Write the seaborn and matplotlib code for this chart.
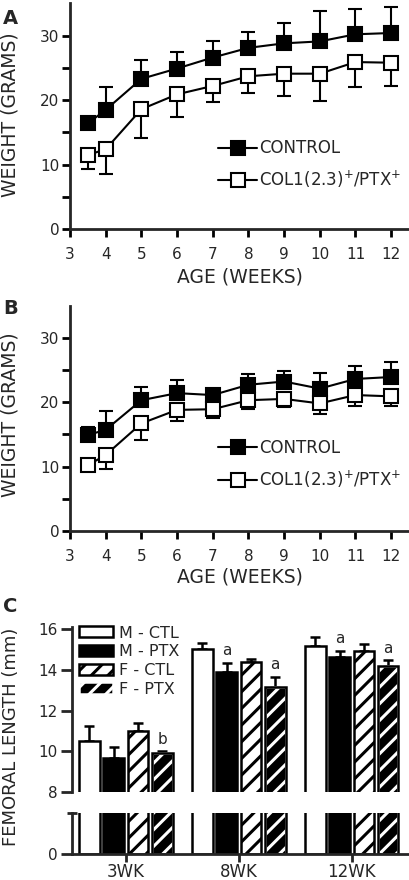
import numpy as np
import pandas as pd
import matplotlib
matplotlib.use("Agg")
import matplotlib.pyplot as plt
import seaborn as sns
from matplotlib.patches import Patch, Rectangle

# Panels A and B: body weight by age
weeks = [3.5, 4, 5, 6, 7, 8, 9, 10, 11, 12]

a_ctl = [16.4, 18.5, 23.3, 24.9, 26.6, 28.1, 28.8, 29.1, 30.2, 30.4]
a_ctl_sd = [0.6, 3.5, 2.9, 2.5, 2.5, 2.5, 3.2, 4.7, 3.9, 4.1]
a_ptx = [11.5, 12.4, 18.6, 20.9, 22.2, 23.7, 24.1, 24.1, 25.9, 25.8]
a_ptx_sd = [2.2, 3.8, 4.4, 3.5, 2.5, 2.6, 3.4, 4.2, 3.8, 3.6]

b_ctl = [14.9, 15.7, 20.3, 21.4, 21.1, 22.7, 23.2, 22.1, 23.6, 23.9]
b_ctl_sd = [1.3, 2.9, 2.1, 2.0, 0.8, 1.7, 1.7, 2.4, 2.0, 2.3]
b_ptx = [10.2, 11.8, 16.7, 18.8, 18.9, 20.3, 20.5, 19.8, 21.1, 20.9]
b_ptx_sd = [0.9, 2.2, 2.5, 1.8, 1.3, 1.3, 1.3, 1.6, 1.7, 1.5]

# Panel C: femoral length
ages = ["3WK", "8WK", "12WK"]
groups = ["M - CTL", "M - PTX", "F - CTL", "F - PTX"]
m_ctl = [10.50, 15.03, 15.18]
m_ctl_sd = [0.74, 0.28, 0.42]
m_ptx = [9.64, 13.91, 14.65]
m_ptx_sd = [0.58, 0.45, 0.30]
f_ctl = [10.99, 14.40, 14.93]
f_ctl_sd = [0.38, 0.14, 0.35]
f_ptx = [9.92, 13.17, 14.20]
f_ptx_sd = [0.08, 0.50, 0.29]
m_ptx_sig = ["", "a", "a"]
f_ptx_sig = ["b", "a", "a"]

sns.set_style("ticks")
plt.rcParams["font.family"] = ["DejaVu Sans"]
plt.rcParams["hatch.linewidth"] = 2.2

W, H = 410, 880
fig = plt.figure(figsize=(W / 100, H / 100), dpi=100)


def px_axes(left, top, right, bottom):
    return fig.add_axes([left / W, 1 - bottom / H, (right - left) / W, (bottom - top) / H])


def style_spines(ax, sides=("left", "bottom")):
    for s in ["left", "right", "top", "bottom"]:
        ax.spines[s].set_visible(s in sides)
        ax.spines[s].set_linewidth(2)


def weight_panel(ax, ctl, ctl_sd, ptx, ptx_sd, ylab_y, xlab_y, leg_y):
    n = len(weeks)
    ax.errorbar(weeks, ctl, yerr=[np.zeros(n), ctl_sd], fmt="none", ecolor="black",
                elinewidth=1.5, capsize=4.7, capthick=1.5, zorder=1)
    ax.errorbar(weeks, ptx, yerr=[ptx_sd, np.zeros(n)], fmt="none", ecolor="black",
                elinewidth=1.5, capsize=4.7, capthick=1.5, zorder=1)
    sns.lineplot(x=weeks, y=ctl, ax=ax, color="black", lw=1.5, marker="s",
                 markersize=9.5, markerfacecolor="black", markeredgecolor="black",
                 markeredgewidth=1.5, label="CONTROL", zorder=3)
    sns.lineplot(x=weeks, y=ptx, ax=ax, color="black", lw=1.5, marker="s",
                 markersize=9.5, markerfacecolor="white", markeredgecolor="black",
                 markeredgewidth=1.5, label="COL1(2.3)$^{+}$/PTX$^{+}$", zorder=3)
    ax.set_xlim(3, 12.5)
    ax.set_ylim(0, 35)
    ax.set_xticks(range(3, 13))
    ax.set_yticks([0, 10, 20, 30])
    ax.set_yticks([5, 15, 25], minor=True)
    style_spines(ax)
    ax.tick_params(which="both", width=2, length=5.8, labelsize=11, color="black")
    ax.tick_params(axis="x", pad=7)
    ax.tick_params(axis="y", pad=2)
    ax.set_xlabel("AGE (WEEKS)", fontsize=13.5)
    ax.xaxis.set_label_coords(0.5, xlab_y)
    ax.set_ylabel("WEIGHT (GRAMS)", fontsize=13.5)
    ax.yaxis.set_label_coords(-0.15, ylab_y)
    ax.legend(loc="upper left", bbox_to_anchor=(0.4366, leg_y), frameon=False,
              fontsize=12, handlelength=2.35, handletextpad=0.1, labelspacing=0.7,
              borderpad=0, borderaxespad=0)


ax_a = px_axes(70, 3.3, 409, 229.3)
weight_panel(ax_a, a_ctl, a_ctl_sd, a_ptx, a_ptx_sd, 0.508, -0.171, 0.398)

ax_b = px_axes(70, 305.5, 409, 531)
weight_panel(ax_b, b_ctl, b_ctl_sd, b_ptx, b_ptx_sd, 0.517, -0.164, 0.407)

# Panel C with broken y axis
df_c = pd.DataFrame({
    "week": ages * 4,
    "group": np.repeat(groups, len(ages)),
    "length": m_ctl + m_ptx + f_ctl + f_ptx,
})
means = [m_ctl, m_ptx, f_ctl, f_ptx]
sds = [m_ctl_sd, m_ptx_sd, f_ctl_sd, f_ptx_sd]
fills = ["white", "black", "white", "black"]
hatches = [None, None, "//", "//"]

ax_c = px_axes(71.7, 626.7, 410, 791.7)
ax_c0 = px_axes(71.7, 812.7, 410, 854.3)

for ax in [ax_c, ax_c0]:
    sns.barplot(data=df_c, x="week", y="length", hue="group", hue_order=groups,
                order=ages, palette=fills, saturation=1, edgecolor="black",
                linewidth=1.8, width=0.86, gap=0.15, errorbar=None, legend=False, ax=ax)
    for i, cont in enumerate(list(ax.containers)):
        for p in cont:
            if hatches[i]:
                p.set_hatch(hatches[i])
            if i == 3:
                p.set_edgecolor("white")
                ax.add_patch(Rectangle((p.get_x(), p.get_y()), p.get_width(), p.get_height(),
                                       fill=False, edgecolor="black", lw=1.8,
                                       zorder=p.get_zorder() + 0.1))
    ax.set_xlabel("")
    ax.set_ylabel("")
    ax.set_xlim(-0.48, 2.516)

# error bars and significance letters on the upper part
bar_sets = list(ax_c.containers)
for i, cont in enumerate(bar_sets):
    xs = [p.get_x() + p.get_width() / 2 for p in cont]
    ax_c.errorbar(xs, means[i], yerr=[np.zeros(len(xs)), sds[i]], fmt="none",
                  ecolor="black", elinewidth=1.8, capsize=3.6, capthick=1.8, zorder=0.9)
    sig = m_ptx_sig if i == 1 else f_ptx_sig if i == 3 else None
    if sig:
        for x, m, s, t in zip(xs, means[i], sds[i], sig):
            if t:
                ax_c.annotate(t, (x, m + s), xytext=(0, 3), textcoords="offset points",
                              ha="center", va="bottom", fontsize=11)

ax_c.set_ylim(8, 16.13)
ax_c.set_yticks([8, 10, 12, 14, 16])
style_spines(ax_c, sides=("left",))
ax_c.tick_params(axis="x", bottom=False, labelbottom=False)
ax_c.tick_params(axis="y", width=2, length=8, labelsize=11, pad=2)

ax_c0.set_ylim(0, 2.05)
ax_c0.set_yticks([0])
ax_c0.set_yticks([2.05], minor=True)
style_spines(ax_c0)
ax_c0.tick_params(axis="y", which="major", width=2, length=8, labelsize=11, pad=2)
ax_c0.tick_params(axis="y", which="minor", width=2, length=6.7, direction="inout")
ax_c0.tick_params(axis="x", width=2, length=5.5, labelsize=12, pad=1)

ax_c.legend([Patch(facecolor=f, edgecolor="white" if i == 3 else "black", hatch=h, lw=1.8)
             for i, (f, h) in enumerate(zip(fills, hatches))], groups,
            loc="upper left", bbox_to_anchor=(0.0216, 1.007), frameon=False,
            fontsize=11.5, handlelength=2.1, handleheight=0.69, handletextpad=0.38,
            labelspacing=0.23, borderpad=0, borderaxespad=0)

fig.text(11 / W, 1 - 737 / H, "FEMORAL LENGTH (mm)", rotation=90, ha="center",
         va="center", fontsize=13)

for letter, top in [("A", 9), ("B", 299), ("C", 597)]:
    fig.text(3 / W, 1 - top / H, letter, fontsize=14, fontweight="bold", ha="left", va="top")

fig.savefig("out.png", dpi=100)
